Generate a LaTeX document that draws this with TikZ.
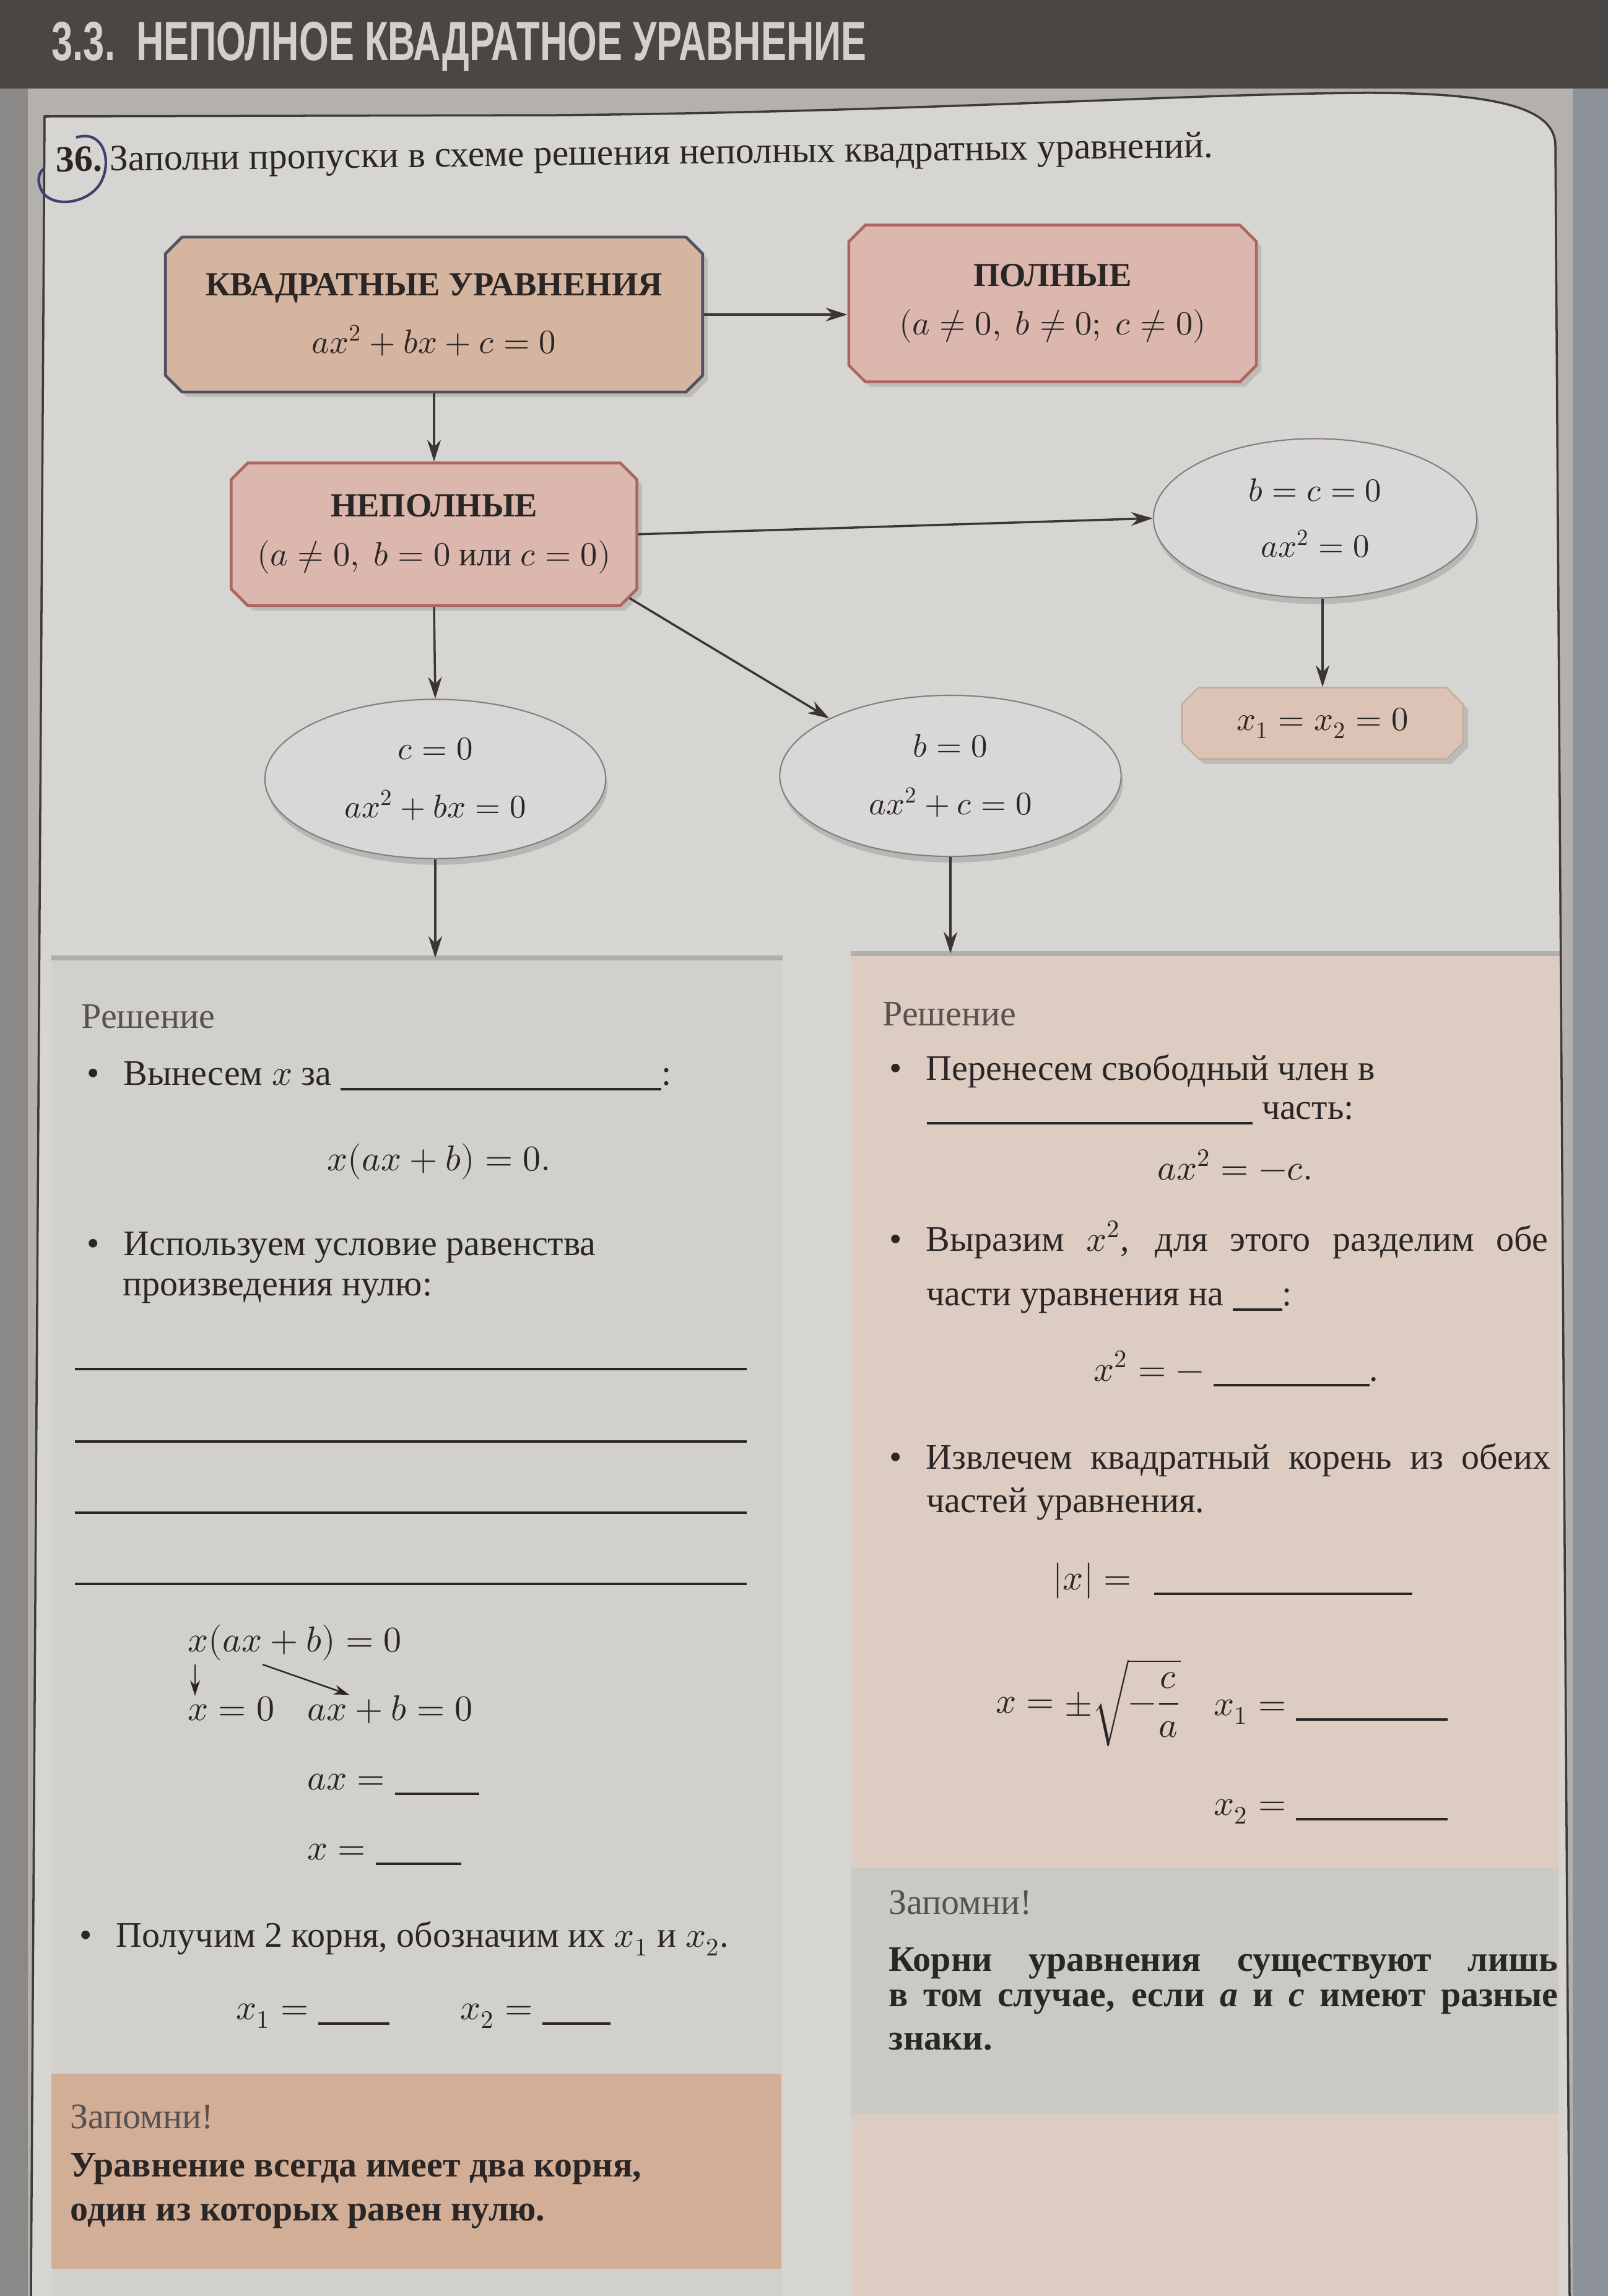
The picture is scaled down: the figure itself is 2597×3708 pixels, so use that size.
\documentclass[tikz,border=0pt]{standalone}
\usepackage{fontspec}
\usepackage{amsmath}
\usepackage{unicode-math}
\setmainfont{Liberation Serif}
\newfontfamily\headfont[FakeStretch=0.69]{Liberation Sans}
\usetikzlibrary{shapes.misc,shapes.geometric,shadows,arrows.meta,positioning}

\definecolor{topdark}{HTML}{4A4644}
\definecolor{headtext}{HTML}{D3D0CB}
\definecolor{deskgray}{HTML}{8D9198}
\definecolor{leftstrip}{HTML}{8B8987}
\definecolor{margin}{HTML}{B4B1AD}
\definecolor{card}{HTML}{D6D5D1}
\definecolor{cardline}{HTML}{3C3A3A}
\definecolor{quadfill}{HTML}{D6B5A0}
\definecolor{quadline}{HTML}{4F5060}
\definecolor{pinkfill}{HTML}{DBB7AD}
\definecolor{pinkline}{HTML}{AE6560}
\definecolor{resfill}{HTML}{DBC4B5}
\definecolor{resline}{HTML}{C2A99A}
\definecolor{ovalfill}{HTML}{D9D8D6}
\definecolor{ovalline}{HTML}{857D86}
\definecolor{leftfill}{HTML}{D1D0CA}
\definecolor{rightfill}{HTML}{DCCCC1}
\definecolor{leftnote}{HTML}{D3AE97}
\definecolor{rightnote}{HTML}{CACAC4}
\definecolor{ink}{HTML}{2A2626}
\definecolor{softink}{HTML}{57524F}
\definecolor{linkgray}{HTML}{3A3636}
\definecolor{pen}{HTML}{3B4170}

\newcommand{\fillin}[1]{\rule[-2.5pt]{#1}{1pt}}
\newcommand{\itembul}{\makebox[5.9mm][l]{\textbullet}}
\newcommand{\bodysize}{\fontsize{16.5}{18.4}\selectfont}

\begin{document}
\begin{tikzpicture}[x=0.01cm, y=-0.01cm,
  txt/.style={anchor=base west, inner sep=0pt, text=ink, font=\bodysize},
  softtxt/.style={txt, text=softink},
  boldtxt/.style={txt, font=\bodysize\bfseries},
  sqbox/.style={chamfered rectangle, chamfered rectangle xsep=1.6mm,
    draw=quadline, fill=quadfill, line width=1.3pt, align=center, text=ink,
    font=\fontsize{15.5}{18}\selectfont,
    drop shadow={shadow xshift=.8mm, shadow yshift=-.8mm, opacity=.3}},
  pinkbox/.style={sqbox, draw=pinkline, fill=pinkfill},
  resbox/.style={sqbox, draw=resline, fill=resfill, line width=.6pt},
  oval/.style={ellipse, draw=ovalline, fill=ovalfill, line width=.6pt,
    align=center, inner sep=0pt, text=ink, font=\fontsize{15}{18}\selectfont,
    drop shadow={shadow xshift=.3mm, shadow yshift=-1mm, opacity=.35}},
  panel/.style={rectangle, inner sep=0pt, anchor=north west},
  link/.style={-{Stealth[length=3.5mm,width=2.2mm]}, line width=1pt, draw=linkgray},
  smalllink/.style={-{Stealth[length=2.5mm,width=1.6mm]}, line width=.7pt, draw=ink},
  fillrule/.style={draw=ink, line width=1pt}
]
  \useasboundingbox (0,0) rectangle (2597,3708);

  % photo background
  \fill[deskgray] (0,0) rectangle (2597,3708);
  \fill[leftstrip] (0,0) rectangle (45,3708);
  \fill[margin] (45,143) rectangle (2540,3708);
  \fill[topdark] (0,0) rectangle (2597,143);
  \fill[card] (72,188) -- (900,186) .. controls (1500,180) and (1900,152) .. (2200,150)
    .. controls (2420,149) and (2512,175) .. (2512,235) -- (2535,3708) -- (50,3708) -- cycle;
  \draw[cardline, line width=1pt] (50,3708) -- (72,188) -- (900,186)
    .. controls (1500,180) and (1900,152) .. (2200,150)
    .. controls (2420,149) and (2512,175) .. (2512,235) -- (2535,3708);

  \node[anchor=base west, inner sep=0pt, text=headtext,
    font=\headfont\bfseries\fontsize{25.3}{30}\selectfont] (chapter) at (83,97)
    {3.3.\ \ НЕПОЛНОЕ КВАДРАТНОЕ УРАВНЕНИЕ};

  \node[txt, font=\fontsize{17}{20}\selectfont, rotate=0.7] (task) at (90,277)
    {\textbf{36.}\hspace{0.2em}Заполни пропуски в схеме решения неполных квадратных уравнений.};
  \draw[pen, line width=1.2pt] (123,222) .. controls (168,208) and (182,262) .. (162,296)
    .. controls (142,330) and (80,338) .. (66,305) .. controls (60,292) and (62,280) .. (70,273);

  % solution panels
  \node[panel, fill=leftfill, minimum width=11.79cm, minimum height=21.61cm] (solA) at (83,1547) {};
  \node[panel, fill=rightfill, minimum width=11.43cm, minimum height=21.68cm] (solB) at (1374,1540) {};
  \fill[leftnote] (83,3349) rectangle (1262,3664);
  \fill[rightnote] (1374,3017) rectangle (2517,3413);
  \draw[black!45, line width=2.5pt, opacity=.5] (solA.north west) -- (solA.north east);
  \draw[black!45, line width=2.5pt, opacity=.5] (solB.north west) -- (solB.north east);

  % scheme
  \node[sqbox, minimum width=8.67cm, minimum height=2.5cm] (quad) at (701,508)
    {\textbf{КВАДРАТНЫЕ УРАВНЕНИЯ}\\[3mm]$ax^2+bx+c=0$};
  \node[pinkbox, minimum width=6.58cm, minimum height=2.53cm] (full) at (1700,490)
    {\textbf{ПОЛНЫЕ}\\[1.5mm]$(a\neq0,\ b\neq0;\ c\neq0)$};
  \node[pinkbox, minimum width=6.55cm, minimum height=2.3cm, below=11mm of quad] (incomplete)
    {\textbf{НЕПОЛНЫЕ}\\[1.5mm]$(a\neq0,\ b=0$ или $c=0)$};
  \node[oval, minimum width=5.22cm, minimum height=2.57cm] (bc) at (2124,837)
    {$b=c=0$\\[2.7mm]$ax^2=0$};
  \node[resbox, minimum width=4.54cm, minimum height=1.15cm] (res) at (2136,1168) {$x_1=x_2=0$};
  \node[oval, minimum width=5.5cm, minimum height=2.57cm] (czero) at (703,1258)
    {$c=0$\\[3mm]$ax^2+bx=0$};
  \node[oval, minimum width=5.51cm, minimum height=2.6cm] (bzero) at (1535,1253)
    {$b=0$\\[3mm]$ax^2+c=0$};

  \draw[link] (quad.east) -- (quad.east -| full.west);
  \draw[link] (quad.south) -- (incomplete.north);
  \draw[link] (incomplete.east) -- (bc.west);
  \draw[link] (bc.south -| res.north) -- (res.north);
  \draw[link] (incomplete.south) -- (czero.north);
  \draw[link] (incomplete.south east) -- (bzero.north west);
  \draw[link] (czero.south) -- (czero.south |- solA.north);
  \draw[link] (bzero.south) -- (bzero.south |- solB.north);

  % left solution: c = 0
  \node[softtxt] (solAhead) at (131,1660) {Решение};
  \node[txt] (stepA1) at (140,1752) {\itembul Вынесем $x$ за \fillin{5.18cm}:};
  \node[txt] (factA) at (528,1890) {$x(ax+b)=0.$};
  \node[txt] (stepA2) at (140,2027) {\itembul Используем условие равенства};
  \node[txt] (stepA2b) at (198,2092) {произведения нулю:};
  \foreach \y in {2211,2328,2443,2558}
    \draw[fillrule] (121,\y) -- (1206,\y);
  \node[txt] (prod) at (303,2667) {$x(ax+b)=0$};
  \node[txt] (xzero) at (303,2778) {$x=0$};
  \node[txt] (lin) at (496,2778) {$ax+b=0$};
  \draw[smalllink] ([xshift=1.2mm,yshift=-.6mm]prod.south west) -- ([xshift=1.2mm]xzero.north west);
  \draw[smalllink] ([xshift=12.1mm,yshift=-.6mm]prod.south west) -- ([xshift=6.8mm]lin.north west);
  \node[txt] (axeq) at (496,2890) {$ax={}$\fillin{1.36cm}};
  \node[txt] (xeq) at (496,3003) {$x={}$\fillin{1.38cm}};
  \node[txt] (stepA3) at (128,3144) {\itembul Получим 2 корня, обозначим их $x_1$ и $x_2$.};
  \node[txt] (rootA1) at (381,3261) {$x_1={}$\fillin{1.15cm}};
  \node[txt] (rootA2) at (743,3261) {$x_2={}$\fillin{1.1cm}};
  \node[softtxt] (noteAhead) at (113,3437) {Запомни!};
  \node[boldtxt] (noteA1) at (113,3515) {Уравнение всегда имеет два корня,};
  \node[boldtxt] (noteA2) at (113,3586) {один из которых равен нулю.};

  % right solution: b = 0
  \node[softtxt] (solBhead) at (1425,1656) {Решение};
  \node[txt] (stepB1) at (1436,1744) {\itembul Перенесем свободный член в};
  \node[txt] (stepB1b) at (1496,1807) {\fillin{5.26cm}\hspace{1.5mm}часть:};
  \node[txt] (moveB) at (1869,1905) {$ax^2=-c.$};
  \node[txt] (stepB2) at (1436,2020) {\itembul\makebox[10.04cm][s]{Выразим $x^2$, для этого разделим обе}};
  \node[txt] (stepB2b) at (1496,2108) {части уравнения на \fillin{0.8cm}:};
  \node[txt] (divB) at (1766,2230) {$x^2=-{}$\hspace{1.5mm}\fillin{2.52cm}.};
  \node[txt] (stepB3) at (1436,2372) {\itembul\makebox[10.08cm][s]{Извлечем квадратный корень из обеих}};
  \node[txt] (stepB3b) at (1496,2442) {частей уравнения.};
  \node[txt] (absB) at (1700,2567) {$|x|={}$\hspace{2mm}\fillin{4.17cm}};
  \node[txt] (sqrtB) at (1608,2766) {$x=\pm\sqrt{-\dfrac{c}{a}}$};
  \node[txt] (rootB1) at (1960,2770) {$x_1={}$\fillin{2.44cm}};
  \node[txt] (rootB2) at (1960,2931) {$x_2={}$\fillin{2.44cm}};
  \node[softtxt] (noteBhead) at (1435,3091) {Запомни!};
  \node[boldtxt] (noteB1) at (1435,3183) {\makebox[10.8cm][s]{Корни уравнения существуют лишь}};
  \node[boldtxt] (noteB2) at (1435,3240) {\makebox[10.8cm][s]{в том случае, если \textit{a} и \textit{c} имеют разные}};
  \node[boldtxt] (noteB3) at (1435,3310) {знаки.};
\end{tikzpicture}
\end{document}
